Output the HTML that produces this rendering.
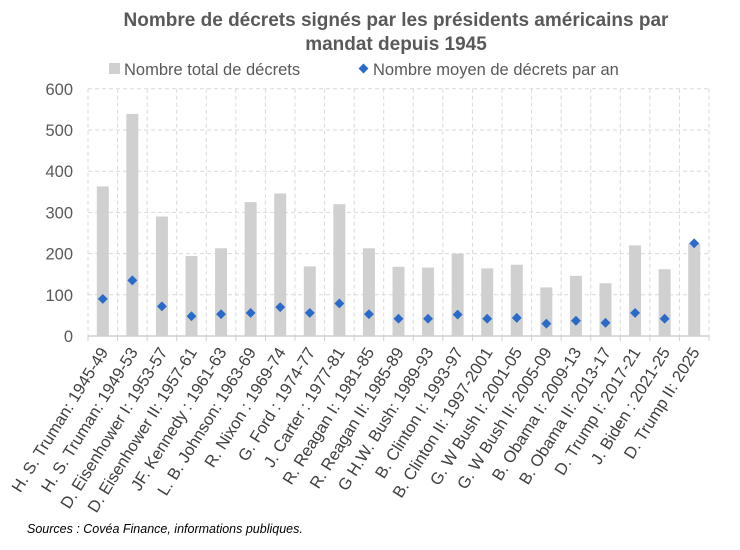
<!DOCTYPE html><html><head><meta charset="utf-8"><style>body{margin:0;background:#fff}svg{display:block;font-family:"Liberation Sans",sans-serif}</style></head><body>
<svg width="740" height="550" xmlns="http://www.w3.org/2000/svg">
<text x="396" y="26" text-anchor="middle" font-size="19" font-weight="bold" fill="#595959">Nombre de décrets signés par les présidents américains par</text>
<text x="396" y="50" text-anchor="middle" font-size="19" font-weight="bold" fill="#595959">mandat depuis 1945</text>
<rect x="109" y="63" width="11" height="11" fill="#d0d0d0"/>
<text x="124" y="75" font-size="16.5" fill="#595959">Nombre total de décrets</text>
<rect x="360" y="65" width="7" height="7" fill="#2a6ac8" transform="rotate(45 363.5 68.5)"/>
<text x="373" y="75" font-size="16.5" fill="#595959">Nombre moyen de décrets par an</text>
<g id="c"></g>
<text x="27" y="533" font-size="12.5" font-style="italic" fill="#000">Sources : Covéa Finance, informations publiques.</text>
</svg>
<script>
var g=document.getElementById('c'),h='';
var x0=88,x1=709,y0=336,k=41.2/100,n=21,w=(x1-x0)/n;
var lab=["H. S. Truman: 1945-49","H. S. Truman: 1949-53","D. Eisenhower I: 1953-57","D. Eisenhower II: 1957-61","JF. Kennedy : 1961-63","L. B. Johnson: 1963-69","R. Nixon : 1969-74","G. Ford : 1974-77","J. Carter : 1977-81","R. Reagan I: 1981-85","R. Reagan II: 1985-89","G H.W. Bush: 1989-93","B. Clinton I: 1993-97","B. Clinton II: 1997-2001","G. W Bush I: 2001-05","G. W Bush II: 2005-09","B. Obama I: 2009-13","B. Obama II: 2013-17","D. Trump I: 2017-21","J. Biden : 2021-25","D. Trump II: 2025"];
var tot=[363,539,290,194,213,325,346,169,320,213,168,166,200,164,173,118,146,128,220,162,225];
var avg=[90,135,72,48,53,56,70,56,79,53,42,42,52,42,44,30,37,32,56,42,225];
for(var i=1;i<=6;i++){var y=y0-i*100*k;h+='<line x1="'+x0+'" x2="'+x1+'" y1="'+y+'" y2="'+y+'" stroke="#d9d9d9" stroke-dasharray="4,3"/>';}
for(var i=0;i<=n;i++){var x=x0+i*w;h+='<line x1="'+x+'" x2="'+x+'" y1="'+(y0-600*k)+'" y2="'+y0+'" stroke="#d9d9d9" stroke-dasharray="4,3"/>';h+='<line x1="'+x+'" x2="'+x+'" y1="'+y0+'" y2="'+(y0+5)+'" stroke="#d0d0d0"/>';}
for(var i=0;i<=6;i++){h+='<text x="73" y="'+(y0-i*100*k+6)+'" text-anchor="end" font-size="16.5" fill="#595959">'+i*100+'</text>';}
for(var i=0;i<n;i++){var c=x0+(i+.5)*w;h+='<rect x="'+(c-6)+'" y="'+(y0-tot[i]*k)+'" width="12" height="'+tot[i]*k+'" fill="#d0d0d0"/>';}
h+='<line x1="'+x0+'" x2="'+x1+'" y1="'+y0+'" y2="'+y0+'" stroke="#d0d0d0" stroke-width="1.5"/>';
for(var i=0;i<n;i++){var c=x0+(i+.5)*w,y=y0-avg[i]*k;h+='<rect x="'+(c-3.5)+'" y="'+(y-3.5)+'" width="7" height="7" fill="#2a6ac8" transform="rotate(45 '+c+' '+y+')"/>';
var lx=c+6,ly=y0+16;
h+='<text x="'+lx+'" y="'+ly+'" text-anchor="end" font-size="16.5" fill="#404040" transform="rotate(-58 '+lx+' '+ly+')">'+lab[i]+'</text>';}
g.innerHTML=h;
</script>
</body></html>
